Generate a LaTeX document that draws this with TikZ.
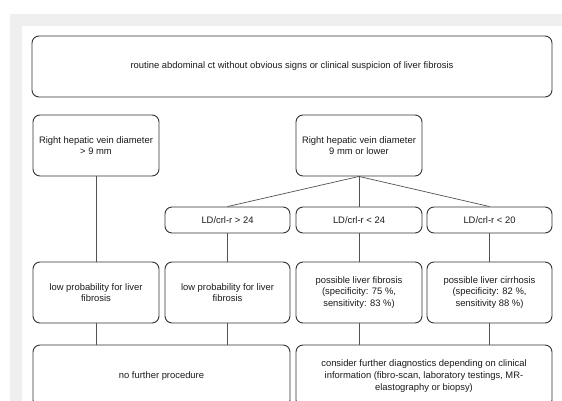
\documentclass[tikz,border=0pt]{standalone}
\usepackage{fontspec}
\setmainfont{Liberation Sans}
\definecolor{panelgrey}{HTML}{EFEFEF}
\definecolor{boxline}{HTML}{333333}
\definecolor{txt}{HTML}{1A1A1A}
\begin{document}
\begin{tikzpicture}[x=1pt,y=-1pt,
  box/.style={draw=boxline, line width=0.9pt, rounded corners=7pt, inner sep=0pt,
    align=center, text=txt, font=\fontsize{9.4}{11.6}\selectfont},
  conn/.style={draw=boxline!85, line width=0.7pt}]
\useasboundingbox (0,0) rectangle (562,401);
\clip (0,0) rectangle (562,401);
\fill[white] (0,0) rectangle (562,401);
\fill[panelgrey] (10,14) rectangle (562,401);
\fill[white] (22,26) rectangle (562,401);

\node[box, minimum width=520, minimum height=61] (top) at (292,66.5)
  {routine abdominal ct without obvious signs or clinical suspicion of liver fibrosis};

\node[box, minimum width=126, minimum height=61] (rhvL) at (96,145.5)
  {Right hepatic vein diameter\\ > 9 mm};
\node[box, minimum width=126, minimum height=61] (rhvR) at (359,145.5)
  {Right hepatic vein diameter\\ 9 mm or lower};

\node[box, minimum width=125, minimum height=26] (ld1) at (227.5,220) {LD/crl-r > 24};
\node[box, minimum width=126, minimum height=26] (ld2) at (359,220) {LD/crl-r < 24};
\node[box, minimum width=125, minimum height=26] (ld3) at (489.5,220) {LD/crl-r < 20};

\node[box, minimum width=126, minimum height=61] (lp1) at (96,292.5)
  {low probability for liver\\ fibrosis};
\node[box, minimum width=125, minimum height=61] (lp2) at (227.5,292.5)
  {low probability for liver\\ fibrosis};
\node[box, minimum width=126, minimum height=61] (fib) at (359,292.5)
  {possible liver fibrosis\\ (specificity: 75 \%,\\ sensitivity: 83 \%)};
\node[box, minimum width=125, minimum height=61] (cir) at (489.5,292.5)
  {possible liver cirrhosis\\ (specificity: 82 \%,\\ sensitivity 88 \%)};

\node[box, minimum width=257, minimum height=62] (nf) at (161.5,376)
  {no further procedure};
\node[box, minimum width=256, minimum height=62] (con) at (424,376)
  {consider further diagnostics depending on clinical\\ information (fibro-scan, laboratory testings, MR-\\ elastography or biopsy)};

\draw[conn] (rhvL.south) -- (lp1.north);
\draw[conn] (rhvR.south) -- (ld1.north);
\draw[conn] (rhvR.south) -- (ld2.north);
\draw[conn] (rhvR.south) -- (ld3.north);
\draw[conn] (ld1.south) -- (lp2.north);
\draw[conn] (ld2.south) -- (fib.north);
\draw[conn] (ld3.south) -- (cir.north);
\draw[conn] (lp1.south) -- (lp1.south |- nf.north);
\draw[conn] (lp2.south) -- (lp2.south |- nf.north);
\draw[conn] (fib.south) -- (fib.south |- con.north);
\draw[conn] (cir.south) -- (cir.south |- con.north);
\end{tikzpicture}
\end{document}
